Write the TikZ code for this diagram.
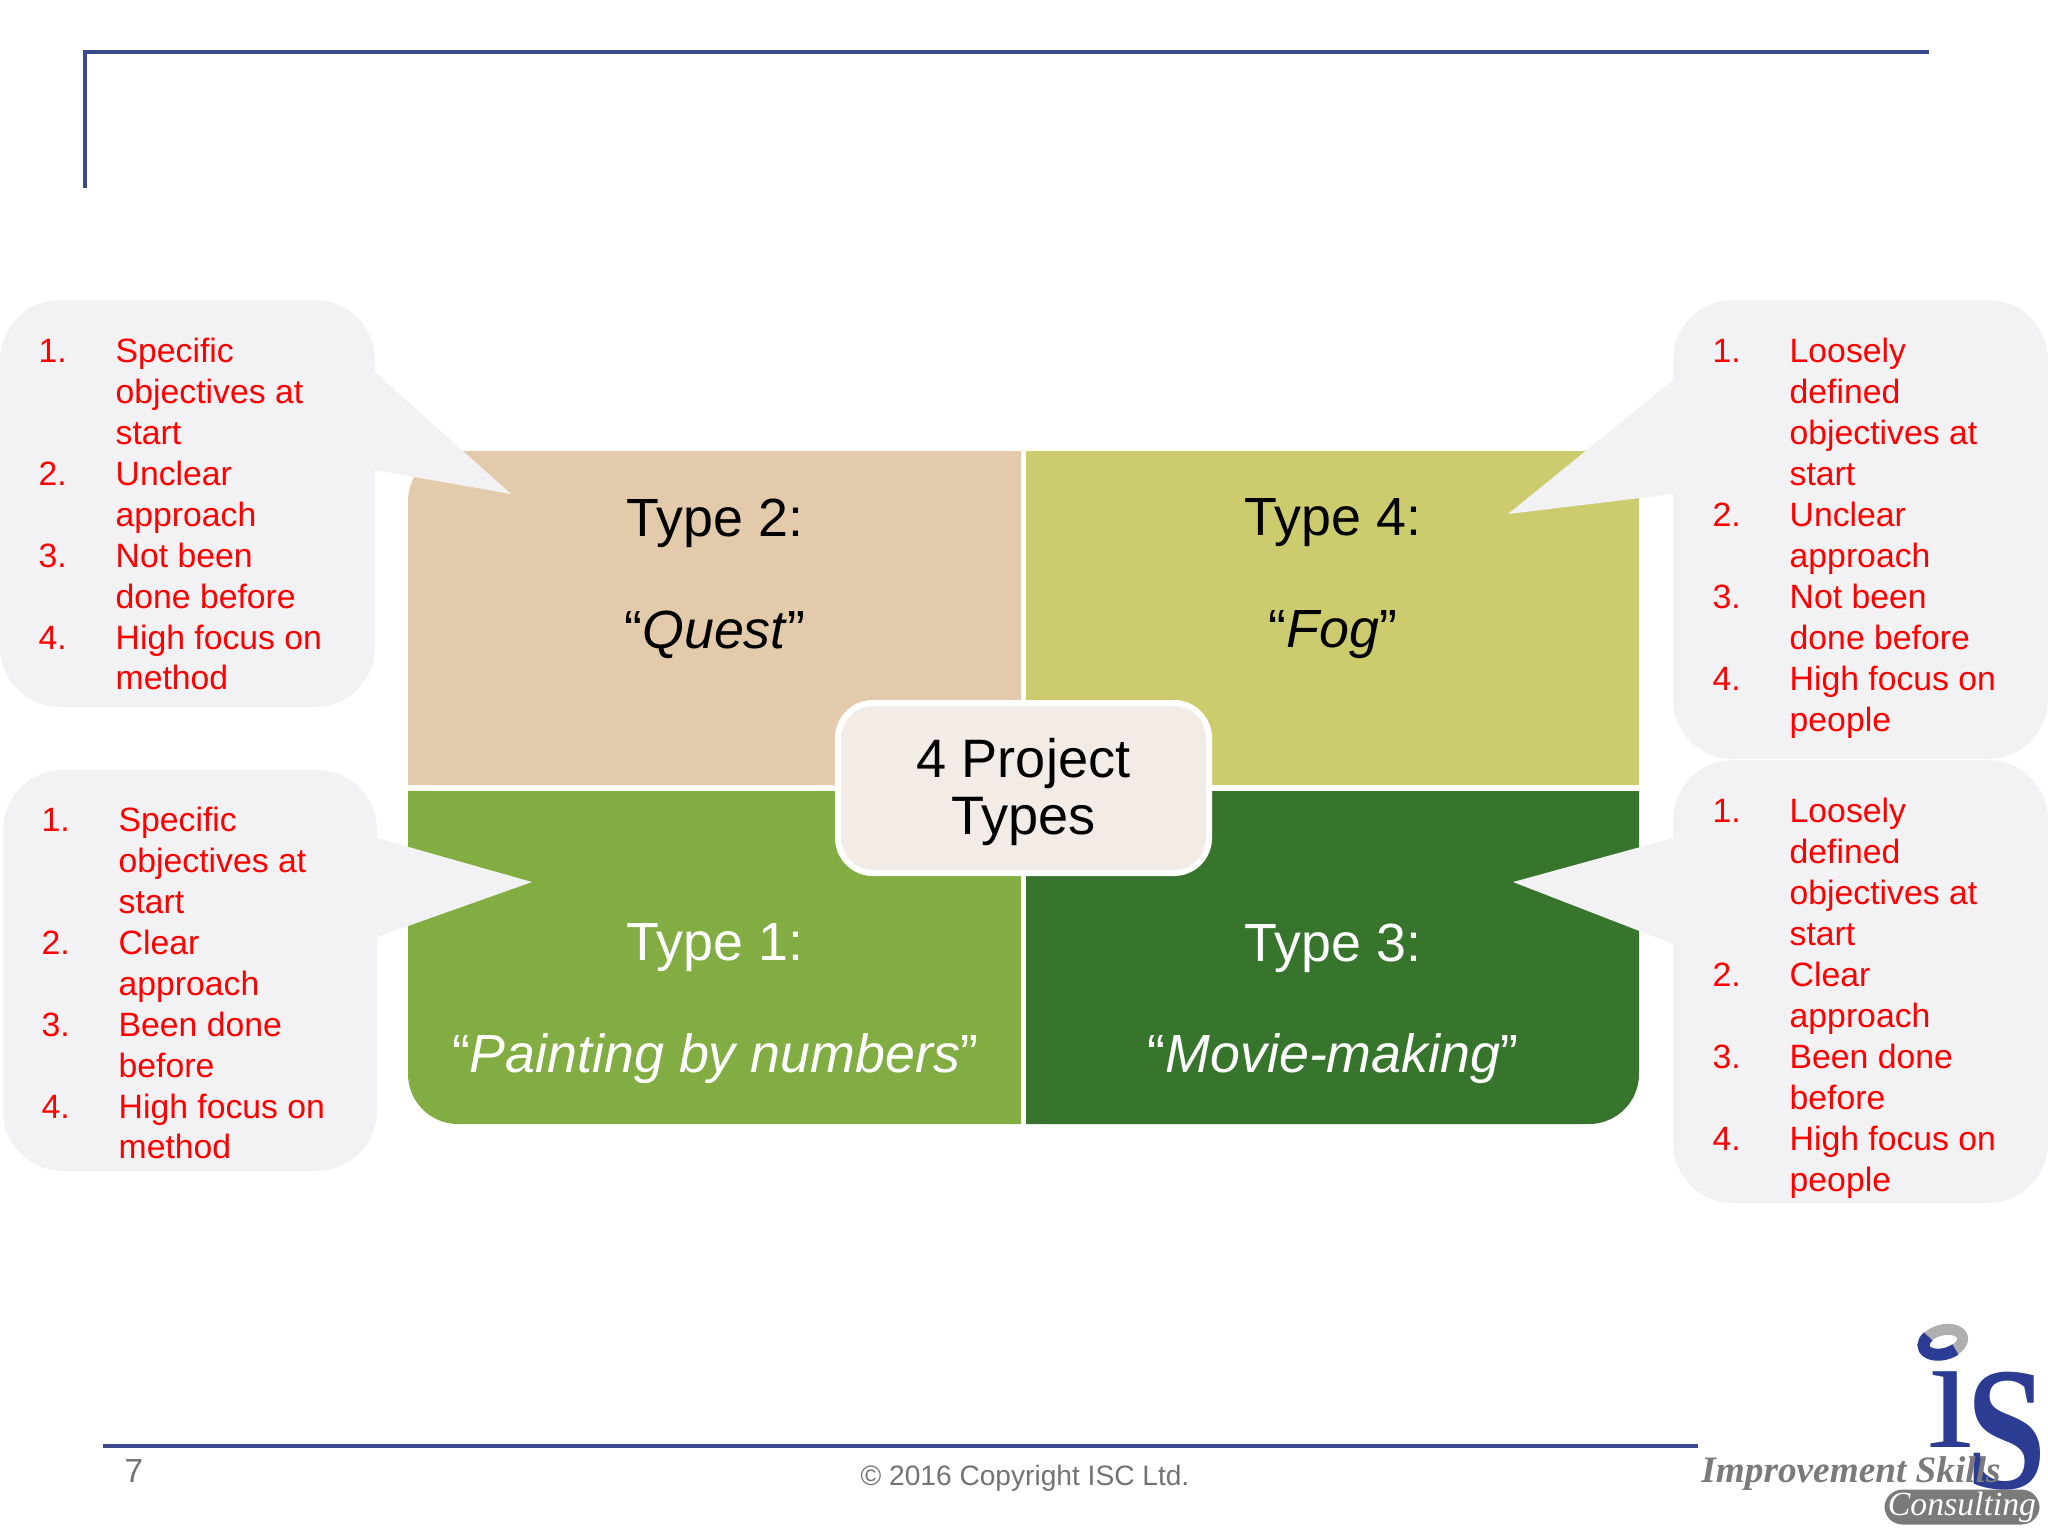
\documentclass[tikz,border=0pt]{standalone}
\usepackage{fontspec}
\setmainfont{Liberation Sans}
\newfontfamily\logofont{Liberation Serif}
\usetikzlibrary{positioning}
\definecolor{rulenavy}{HTML}{3A4A8C}
\definecolor{logonavy}{HTML}{2B3C92}
\definecolor{logogrey}{HTML}{7A7A7A}
\definecolor{bubblefill}{HTML}{F2F1F3}
\definecolor{listred}{HTML}{FF0000}
\definecolor{quadtan}{HTML}{E2CAAB}
\definecolor{quadolive}{HTML}{CCCC6F}
\definecolor{quadgreen}{HTML}{82AD42}
\definecolor{quadforest}{HTML}{37742C}
\definecolor{hubfill}{HTML}{F3ECE6}
\tikzset{
  bubble/.style   = {fill=bubblefill, rounded corners=6mm, inner sep=0pt},
  listtxt/.style  = {font=\fontsize{9.6}{11.65}\selectfont, text=listred,
                     anchor=west, inner sep=0pt},
  headtxt/.style  = {font=\fontsize{15.3}{18}\selectfont, inner sep=0pt},
  hubbox/.style   = {draw=white, fill=hubfill, line width=0.6mm,
                     rounded corners=3.5mm, align=center, inner sep=0pt,
                     font=\fontsize{15.4}{16.2}\selectfont, text depth=1pt,
                     minimum width=37.1mm, minimum height=17mm},
  rulenv/.style   = {draw=rulenavy, line width=0.4mm},
  foottxt/.style  = {text=black!55, inner sep=0pt},
  quadcorner/.style = {rounded corners=5mm},
}

\begin{document}
\begin{tikzpicture}[x=0.1mm,y=-0.1mm]
        \useasboundingbox (0,0) rectangle (2048,1536);

        \draw[rulenv] (85,188) -- (85,52) -- (1929,52);

        % four quadrants
        \fill[quadtan] (1021,785) -- (408,785) [quadcorner] -- (408,451) [sharp corners] -- (1021,451) -- cycle;
        \fill[quadolive] (1026,785) -- (1026,451) [quadcorner] -- (1639,451) [sharp corners] -- (1639,785) -- cycle;
        \fill[quadgreen] (1021,791) -- (408,791) [quadcorner] -- (408,1124) [sharp corners] -- (1021,1124) -- cycle;
        \fill[quadforest] (1026,791) -- (1026,1124) [quadcorner] -- (1639,1124) [sharp corners] -- (1639,791) -- cycle;

        \node[headtxt] (t2) at (715,523) {Type 2:};
        \node[headtxt] (q2) at (715,635) {“\textit{Quest}”};
        \node[headtxt] (t4) at (1333,523) {Type 4:};
        \node[headtxt] (q4) at (1333,635) {“\textit{Fog}”};
        \node[headtxt, text=white] (t1) at (715,948) {Type 1:};
        \node[headtxt, text=white] (q1) at (715,1059) {“\textit{Painting by numbers}”};
        \node[headtxt, text=white] (t3) at (1333,948) {Type 3:};
        \node[headtxt, text=white] (q3) at (1333,1059) {“\textit{Movie-making}”};

        \node[hubbox] (hub) at (1023.5,788) {4 Project\\Types};

        % callouts
        \node[bubble, minimum width=37.5mm, minimum height=40.7mm] (b2) at (187.5,503.5) {};
        \fill[bubblefill] (375,372) -- (511,494) -- (375,470) -- cycle;
        \node[listtxt] (l2) at (38,518) {\begin{tabular}{@{}p{7.7mm}@{}l@{}}
            1. & Specific\\ & objectives at\\ & start\\
            2. & Unclear\\ & approach\\
            3. & Not been\\ & done before\\
            4. & High focus on\\ & method
          \end{tabular}};

        \node[bubble, minimum width=37.4mm, minimum height=40.1mm] (b1) at (190,970.5) {};
        \fill[bubblefill] (377,838) -- (532,882) -- (377,937) -- cycle;
        \node[listtxt] (l1) at (41,987) {\begin{tabular}{@{}p{7.7mm}@{}l@{}}
            1. & Specific\\ & objectives at\\ & start\\
            2. & Clear\\ & approach\\
            3. & Been done\\ & before\\
            4. & High focus on\\ & method
          \end{tabular}};

        \node[bubble, minimum width=37.5mm, minimum height=45.9mm] (b4) at (1860.5,529.5) {};
        \fill[bubblefill] (1673,380) -- (1508,514) -- (1673,494) -- cycle;
        \node[listtxt] (l4) at (1712,539) {\begin{tabular}{@{}p{7.7mm}@{}l@{}}
            1. & Loosely\\ & defined\\ & objectives at\\ & start\\
            2. & Unclear\\ & approach\\
            3. & Not been\\ & done before\\
            4. & High focus on\\ & people
          \end{tabular}};

        \node[bubble, minimum width=37.5mm, minimum height=44.3mm] (b3) at (1860.5,981.5) {};
        \fill[bubblefill] (1673,838) -- (1513,882) -- (1673,944) -- cycle;
        \node[listtxt] (l3) at (1712,999) {\begin{tabular}{@{}p{7.7mm}@{}l@{}}
            1. & Loosely\\ & defined\\ & objectives at\\ & start\\
            2. & Clear\\ & approach\\
            3. & Been done\\ & before\\
            4. & High focus on\\ & people
          \end{tabular}};

        % footer
        \draw[rulenv] (103,1446) -- (1698,1446);
        \node[foottxt, font=\fontsize{9.5}{11}\selectfont] (pg) at (134,1471) {7};
        \node[foottxt, font=\fontsize{8}{10}\selectfont] (copy) at (1025,1478) {© 2016 Copyright ISC Ltd.};

        % logo
        \draw[logogrey!60, line width=1.1mm, rotate around={15:(1943,1342)}] (1943,1342) ellipse (20 and 12);
        \draw[logonavy, line width=1.2mm, rotate around={15:(1943,1342)}] ([shift={(60:20 and 12)}]1943,1342) arc (60:230:20 and 12);
        \node[inner sep=0pt, text=logonavy, font=\logofont\fontsize{47}{47}\selectfont] (logoi) at (1950,1410) {ı};
        \node[inner sep=0pt, text=logonavy, font=\logofont\bfseries\fontsize{50}{50}\selectfont, xscale=0.82] (logos) at (2007,1431) {S};
        \node[inner sep=0pt, text=logogrey, font=\logofont\itshape\bfseries\fontsize{10.6}{13}\selectfont] (logoname) at (1851,1474) {Improvement Skills};
        \node[fill=logogrey, rounded corners=1.8mm, minimum width=15.5mm, minimum height=3.5mm, inner sep=0pt, text=white,
              font=\logofont\itshape\fontsize{9.6}{12}\selectfont] (logocons) at (1962,1507) {Consulting};
    \end{tikzpicture}
\end{document}
